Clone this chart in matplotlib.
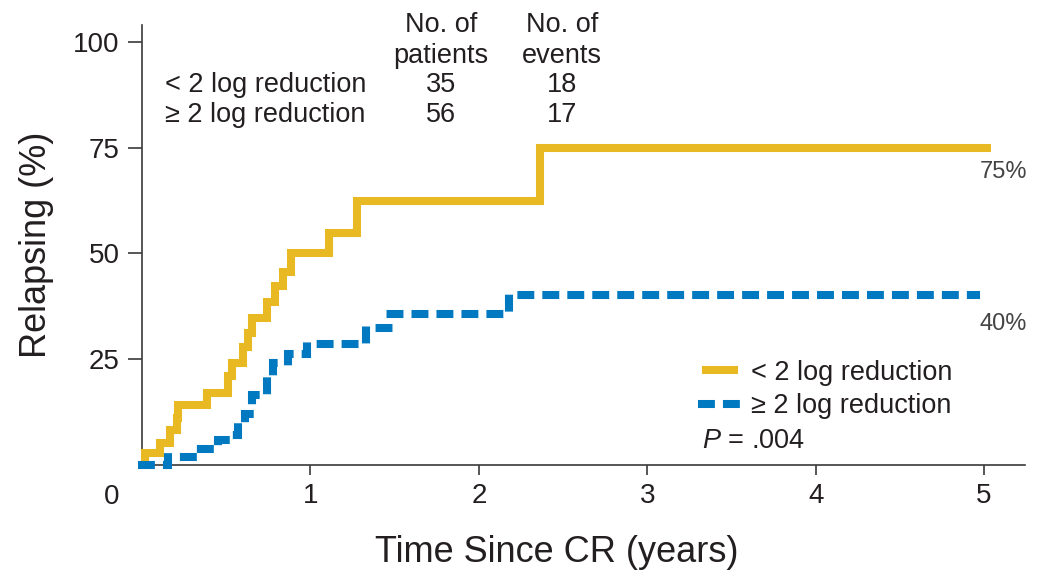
import matplotlib
matplotlib.use("Agg")
import matplotlib.pyplot as plt

plt.rcParams['font.family'] = ['Liberation Sans', 'DejaVu Sans']
plt.rcParams['mathtext.fontset'] = 'custom'
plt.rcParams['mathtext.it'] = 'Liberation Sans:italic'
plt.rcParams['mathtext.rm'] = 'Liberation Sans'

# cumulative incidence of relapse, step curves (years, %)
t_low = [0, 0.02, 0.107, 0.166, 0.206, 0.216, 0.384, 0.513, 0.532, 0.597, 0.627,
         0.656, 0.741, 0.790, 0.838, 0.885, 1.110, 1.276, 2.365, 5.04]
v_low = [0, 2.9, 5.1, 8.3, 11.0, 14.2, 17.0, 21.0, 24.2, 27.8, 31.1,
         34.7, 38.6, 42.2, 45.7, 50.0, 54.8, 62.3, 75.0, 75.0]

t_high = [0, 0.152, 0.34, 0.449, 0.523, 0.57, 0.612, 0.642, 0.655, 0.74,
          0.78, 0.865, 0.979, 1.33, 1.47, 2.18, 4.955]
v_high = [0, 2.0, 3.7, 5.8, 7.1, 9.5, 12.0, 14.0, 16.5, 21.7,
          24.1, 26.3, 28.7, 32.3, 35.7, 40.2, 40.2]

groups = ['< 2 log reduction', '\u2265 2 log reduction']
n_patients = [35, 56]
n_events = [18, 17]
final_pct = [75, 40]
p_value = '.004'

yellow = '#E8B923'
blue = '#0079C1'
ink = '#231f20'

fig = plt.figure(figsize=(10.4, 5.83), dpi=100)
ax = fig.add_axes([142 / 1040, 118 / 583, 883 / 1040, 440 / 583])

lw = 5.8
ax.step(t_low, v_low, where='post', color=yellow, lw=lw,
        solid_joinstyle='miter', solid_capstyle='butt', clip_on=False,
        label=groups[0], zorder=3)
ax.step(t_high, v_high, where='post', color=blue, lw=lw,
        linestyle=(0, (1.1, 2.0)), dash_capstyle='projecting',
        dash_joinstyle='miter', clip_on=False, label=groups[1], zorder=3)

ax.set_xlim(0, 5.243)
ax.set_ylim(0, 104)

for s in ['top', 'right']:
    ax.spines[s].set_visible(False)
for s in ['left', 'bottom']:
    ax.spines[s].set_color('#3a3a3a')
    ax.spines[s].set_linewidth(1.2)

ax.set_yticks([25, 50, 75, 100])
ax.set_xticks([1, 2, 3, 4, 5])
ax.tick_params(axis='y', length=10, width=1.2, color='#3a3a3a', pad=6,
               labelsize=20, labelcolor=ink)
ax.tick_params(axis='x', length=7, width=1.2, color='#3a3a3a', pad=6,
               labelsize=20, labelcolor=ink)
ax.annotate('0', xy=(0, 0), xytext=(-22, -23), textcoords='offset points',
            ha='center', va='center', fontsize=20, color=ink)

ax.set_ylabel('Relapsing (%)', fontsize=26, color=ink)
ax.yaxis.set_label_coords(-0.10, 0.5)
ax.set_xlabel('Time Since CR (years)', fontsize=26, color=ink)
ax.xaxis.set_label_coords(0.47, -0.16)

# patient / event table
fs = 19.5
col1, col2, row_x = 1.775, 2.495, 0.137
ax.text(col1, 102.4, 'No. of', ha='center', va='baseline', fontsize=fs, color=ink)
ax.text(col1, 95.0, 'patients', ha='center', va='baseline', fontsize=fs, color=ink)
ax.text(col2, 102.4, 'No. of', ha='center', va='baseline', fontsize=fs, color=ink)
ax.text(col2, 95.0, 'events', ha='center', va='baseline', fontsize=fs, color=ink)
for y, g, n, e in zip([88.2, 81.1], groups, n_patients, n_events):
    ax.text(row_x, y, g, ha='left', va='baseline', fontsize=fs, color=ink)
    ax.text(col1, y, str(n), ha='center', va='baseline', fontsize=fs, color=ink)
    ax.text(col2, y, str(e), ha='center', va='baseline', fontsize=fs, color=ink)

# end-of-curve percentages
ax.text(5.255, 67.8, f'{final_pct[0]}%', ha='right', va='baseline',
        fontsize=17, color='#444444', clip_on=False)
ax.text(5.255, 31.9, f'{final_pct[1]}%', ha='right', va='baseline',
        fontsize=17, color='#444444', clip_on=False)

leg = ax.legend(loc='upper left', bbox_to_anchor=(0.634, 0.239), frameon=False,
                fontsize=fs, handlelength=1.35, handletextpad=0.45,
                labelspacing=0.28, borderpad=0, borderaxespad=0)
for txt in leg.get_texts():
    txt.set_color(ink)
ax.text(3.325, 4.0, f'$P$ = {p_value}', ha='left', va='baseline',
        fontsize=fs, color=ink)

fig.savefig('out.png', dpi=100)
